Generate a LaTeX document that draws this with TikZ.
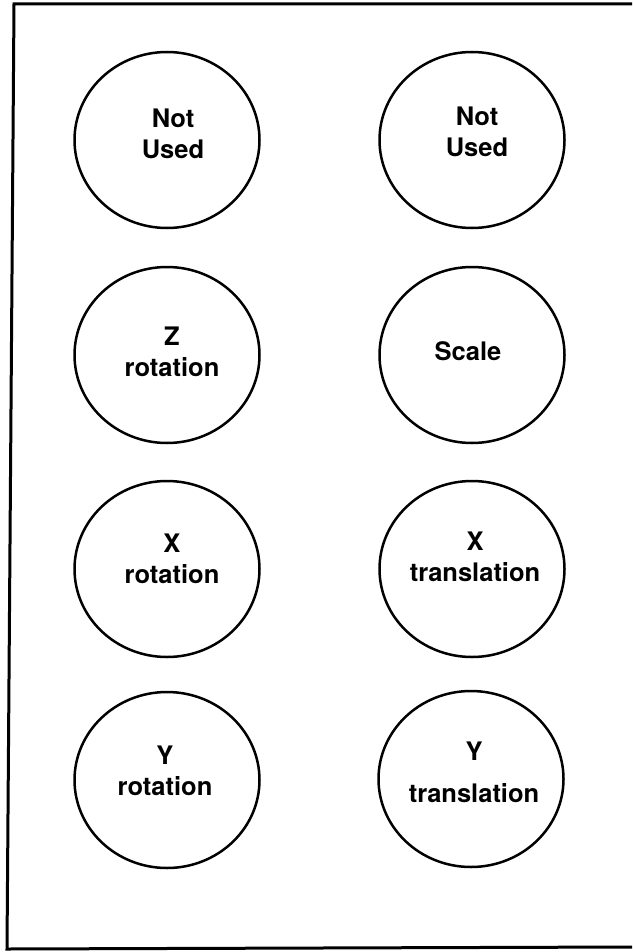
\documentclass[tikz,border=0pt]{standalone}
\usepackage{fontspec}
\setmainfont{TeX Gyre Heros}
\usetikzlibrary{shapes.geometric}
\begin{document}
\begin{tikzpicture}[x=1pt,y=-1pt,
  frameline/.style={line width=3pt},
  disc/.style={draw, ellipse, line width=2.5pt, minimum width=185pt, minimum height=176pt, inner sep=0pt},
  lbl/.style={align=center, inner sep=0pt, font=\fontsize{25.5}{31}\selectfont\bfseries}]
\useasboundingbox (0,0) rectangle (632,952);
% frame
\coordinate (ftr) at (632,4);
\coordinate (ftl) at (14,4);
\coordinate (fbl) at (7,949);
\coordinate (fbr) at (632,947);
\draw[frameline] (ftr) -- (ftl) -- (fbl) -- (fbr);
% circles
\node[disc] (c1) at (167,140) {};
\node[disc] (c2) at (472,140) {};
\node[disc] (c3) at (167,355) {};
\node[disc] (c4) at (472,355) {};
\node[disc] (c5) at (167,569) {};
\node[disc] (c6) at (472,569) {};
\node[disc] (c7) at (167,780) {};
\node[disc] (c8) at (471,779) {};
% labels
\node[lbl] (t1) at (173,134) {Not\\Used};
\node[lbl] (t2) at (477,132) {Not\\Used};
\node[lbl] (t3) at (172,352) {Z\\rotation};
\node[lbl] (t4) at (468,351) {Scale};
\node[lbl] (t5) at (172,559) {X\\rotation};
\node[lbl] (t6) at (475,557) {X\\translation};
\node[lbl] (t7) at (165,771) {Y\\rotation};
\node[lbl] (t8) at (474,772) {Y\\[11pt]translation};
\end{tikzpicture}
\end{document}
